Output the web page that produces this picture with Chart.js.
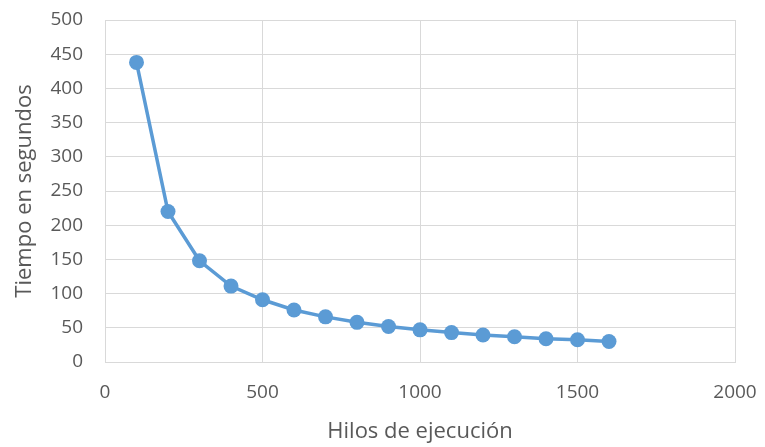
<!DOCTYPE html>
<html>
<head>
<meta charset="utf-8">
<script src="https://cdn.jsdelivr.net/npm/chart.js@4/dist/chart.umd.min.js"></script>
<style>
  html, body { margin: 0; padding: 0; background: #ffffff; }
  #wrap { width: 765px; height: 447px; }
</style>
</head>
<body>
<div id="wrap"><canvas id="c" width="765" height="447"></canvas></div>
<script>
const threads = [100, 200, 300, 400, 500, 600, 700, 800, 900, 1000, 1100, 1200, 1300, 1400, 1500, 1600];
const seconds = [438, 220, 148, 111, 91, 76, 66, 58, 52, 47, 43, 39.5, 37, 34, 32.5, 30];
const xTicks = [0, 500, 1000, 1500, 2000];
const yTicks = [0, 50, 100, 150, 200, 250, 300, 350, 400, 450, 500];
const xTitle = 'Hilos de ejecución';
const yTitle = 'Tiempo en segundos';

const points = threads.map((t, i) => ({ x: t, y: seconds[i] }));
const FONT = "'Open Sans', 'DejaVu Sans', sans-serif";

new Chart(document.getElementById('c'), {
  type: 'line',
  data: {
    datasets: [{
      data: points,
      borderColor: '#5b9bd5',
      backgroundColor: '#5b9bd5',
      borderWidth: 3.5,
      pointRadius: 7.5,
      pointHoverRadius: 7.5,
      pointBorderWidth: 0,
      tension: 0,
      fill: false
    }]
  },
  options: {
    responsive: false,
    animation: false,
    devicePixelRatio: 1,
    layout: { padding: { left: 0, right: 30, top: 20, bottom: 0 } },
    plugins: { legend: { display: false }, tooltip: { enabled: false } },
    scales: {
      x: {
        type: 'linear',
        min: xTicks[0],
        max: xTicks[xTicks.length - 1],
        afterBuildTicks: s => { s.ticks = xTicks.map(v => ({ value: v })); },
        afterFit: s => { s.height = 85; s.paddingLeft = 0; s.paddingRight = 0; },
        grid: { color: '#d9d9d9', lineWidth: 1, drawTicks: false },
        border: { color: '#d9d9d9', width: 1 },
        ticks: { color: '#595959', font: { family: FONT, size: 19 }, padding: 19, maxRotation: 0,
                 callback: v => String(v) },
        title: {
          display: true, text: xTitle, color: '#595959',
          font: { family: FONT, size: 22 }, padding: { top: 0, bottom: 2 }
        }
      },
      y: {
        type: 'linear',
        min: yTicks[0],
        max: yTicks[yTicks.length - 1],
        afterBuildTicks: s => { s.ticks = yTicks.map(v => ({ value: v })); },
        afterFit: s => { s.width = 105; s.paddingTop = 0; s.paddingBottom = 0; },
        grid: { color: '#d9d9d9', lineWidth: 1, drawTicks: false },
        border: { color: '#d9d9d9', width: 1 },
        ticks: { color: '#595959', font: { family: FONT, size: 19 }, padding: 22,
                 callback: v => String(v) },
        title: {
          display: true, text: yTitle, color: '#595959',
          font: { family: FONT, size: 22 }, padding: { top: 12, bottom: 0 }
        }
      }
    }
  }
});
</script>
</body>
</html>
